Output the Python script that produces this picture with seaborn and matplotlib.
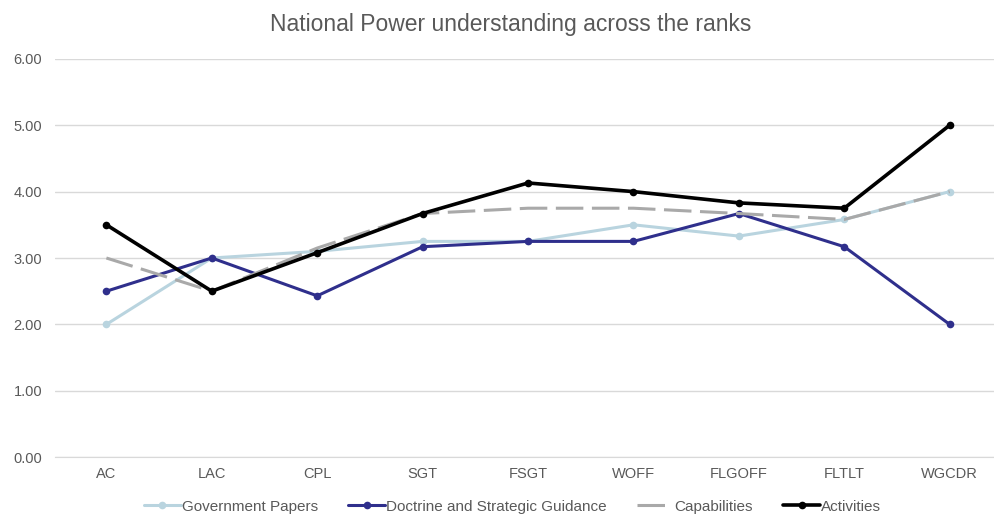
import numpy as np
import pandas as pd
import matplotlib.pyplot as plt
from matplotlib.lines import Line2D
import seaborn as sns

# ranks along the x axis
ranks = ["AC", "LAC", "CPL", "SGT", "FSGT", "WOFF", "FLGOFF", "FLTLT", "WGCDR"]

# mean score per rank for each theme
gov_papers = [2.00, 3.00, 3.10, 3.25, 3.25, 3.50, 3.33, 3.58, 4.00]
doctrine = [2.50, 3.00, 2.43, 3.17, 3.25, 3.25, 3.67, 3.17, 2.00]
capabilities = [3.00, 2.50, 3.15, 3.67, 3.75, 3.75, 3.67, 3.58, 4.00]
activities = [3.50, 2.50, 3.08, 3.67, 4.13, 4.00, 3.83, 3.75, 5.00]

series = {
    "Government Papers": gov_papers,
    "Doctrine and Strategic Guidance": doctrine,
    "Capabilities": capabilities,
    "Activities": activities,
}
colors = ["#b9d4df", "#2f2f8c", "#a9a9a9", "#000000"]

rows = []
for name, vals in series.items():
    for i, v in enumerate(vals):
        rows.append({"rank": i, "score": v, "series": name})
df = pd.DataFrame(rows)

sns.set_style("white")
plt.rcParams['font.family'] = ['Liberation Sans', 'DejaVu Sans']

fig = plt.figure(figsize=(9.95, 5.16), dpi=100)
ax = fig.add_axes([0.055, 0.114, 0.945, 0.772])

handles = []
for (name, vals), col in zip(series.items(), colors):
    sub = df[df["series"] == name]
    lw = 2.6 if name == "Activities" else 2.2
    if name == "Capabilities":
        ls, mk = (0, (9, 2.8)), None
    else:
        ls, mk = "-", "o"
    sns.lineplot(data=sub, x="rank", y="score", ax=ax, color=col, lw=lw,
                 linestyle=ls, marker=mk, markersize=5.5, markeredgewidth=0,
                 legend=False)
    handles.append(Line2D([], [], color=col, lw=lw, linestyle=ls, marker=mk,
                          markersize=5.5, markeredgewidth=0, label=name))

ax.set_ylim(0, 6)
ax.set_xlim(-0.49, 8.43)
ax.set_yticks(np.arange(0, 7, 1))
ax.set_yticklabels([f"{v:.2f}" for v in np.arange(0, 7, 1)], color="#595959", fontsize=10.5)
ax.set_xticks(range(len(ranks)))
ax.set_xticklabels(ranks, color="#595959", fontsize=10.5)
ax.tick_params(axis="x", length=0, pad=7)
ax.tick_params(axis="y", length=0, pad=9)
ax.yaxis.grid(True, color="#d9d9d9", lw=1)
ax.set_axisbelow(True)
for s in ax.spines.values():
    s.set_visible(False)
ax.spines["bottom"].set_visible(True)
ax.spines["bottom"].set_color("#d9d9d9")
ax.set_xlabel("")
ax.set_ylabel("")

fig.suptitle("National Power understanding across the ranks", y=0.975,
             fontsize=16.5, color="#595959", x=0.513)

fig.legend(handles=handles, loc="center", bbox_to_anchor=(0.515, 0.018), ncol=4,
           frameon=False, fontsize=11, handlelength=2.4, columnspacing=2.0,
           labelcolor="#595959", handletextpad=0.05)

fig.savefig("out.png", dpi=100)
